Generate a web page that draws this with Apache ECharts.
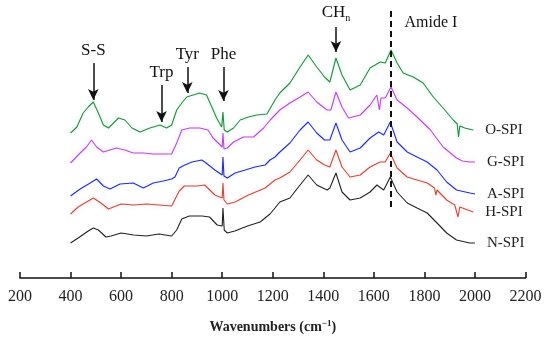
<!DOCTYPE html>
<html><head><meta charset="utf-8">
<script src="https://cdn.jsdelivr.net/npm/echarts@6/dist/echarts.min.js"></script>
<style>html,body{margin:0;padding:0;background:#fff}#c{width:550px;height:342px}</style>
</head><body><div id="c"></div>
<script>
// Wavenumber ticks
const xTicks = [200,400,600,800,1000,1200,1400,1600,1800,2000,2200];
// Series (wavenumber, offset Raman intensity in arbitrary units)
const oX = [400,425,450,470,490,510,530,550,570,590,615,643,675,714,754,780,800,820,840,860,885,911,938,959,978,998,1003,1008,1020,1045,1071,1104,1137,1177,1209,1228,1268,1308,1340,1374,1405,1426,1450,1474,1506,1546,1585,1625,1645,1668,1692,1716,1756,1795,1835,1874,1914,1930,1935,1940,1960,1993];
const oY = [145,151,165,171,176,165,153,150,155,160,158,150,146,150,153,150,153,168,175,181,183,185,183,171,160,151,166,148,146,150,158,161,163,164,178,185,195,211,223,211,201,196,220,203,188,193,210,216,215,228,215,205,201,195,181,170,158,154,141,152,150,148];
const gX = [400,438,463,483,503,530,556,582,615,648,688,727,767,800,820,840,872,911,944,964,984,1000,1003,1007,1020,1045,1084,1124,1164,1190,1228,1268,1308,1340,1374,1415,1430,1450,1474,1500,1546,1585,1612,1622,1628,1645,1668,1692,1732,1771,1824,1874,1927,1950,1980,2000];
const gY = [115,125,131,138,131,126,128,130,128,125,125,124,124,124,135,148,150,150,148,140,135,131,145,129,130,136,141,141,150,158,168,175,181,186,176,168,168,186,171,160,163,173,183,168,180,180,191,178,170,161,148,131,120,117,116,116];
const aX = [400,438,478,503,530,556,596,648,688,727,767,800,813,830,852,880,919,931,971,1000,1003,1007,1020,1051,1091,1130,1170,1189,1209,1228,1268,1308,1340,1374,1405,1426,1450,1474,1506,1546,1585,1619,1639,1665,1692,1732,1771,1811,1850,1888,1927,1980,2000];
const aY = [82,89,95,99,92,89,94,95,90,95,97,99,101,110,113,116,118,116,108,103,121,102,100,105,108,111,113,118,121,126,135,148,156,145,138,138,155,138,126,130,140,146,143,156,136,126,121,116,108,96,88,85,84];
const hX = [400,430,470,490,520,550,600,650,700,750,800,830,850,900,931,971,1000,1003,1007,1020,1051,1104,1170,1209,1228,1268,1308,1340,1374,1405,1426,1450,1474,1506,1546,1585,1625,1645,1665,1692,1732,1771,1811,1840,1845,1850,1888,1920,1933,1940,1946,1993];
const hY = [64,71,77,80,75,69,74,73,74,73,72,87,92,92,93,83,80,95,78,74,76,83,90,98,100,106,118,128,118,113,111,128,111,101,103,111,116,116,125,110,101,98,95,90,83,88,78,73,61,71,70,66];
const nX = [400,430,470,490,510,540,560,600,650,700,750,800,820,840,870,920,950,980,1000,1003,1008,1020,1050,1100,1150,1189,1209,1228,1268,1308,1340,1374,1415,1426,1450,1474,1506,1546,1585,1612,1639,1665,1692,1732,1771,1811,1850,1888,1927,1980,2000];
const nY = [35,40,47,50,48,41,42,45,43,42,44,42,48,59,62,62,61,53,52,70,48,45,47,52,56,64,70,76,80,93,103,93,88,90,105,86,78,80,86,93,88,101,86,75,70,65,55,45,38,35,35];
const seriesNames = ['O-SPI','G-SPI','A-SPI','H-SPI','N-SPI'];
const seriesColors = ['#2f8a35','#b24fd6','#2b2bcf','#c0513a','#222222'];
const haloColors = ['rgba(120,240,230,0.55)','rgba(240,150,240,0.5)','rgba(140,200,255,0.35)','rgba(255,160,190,0.55)','rgba(0,0,0,0)'];
// Band annotations: label, wavenumber, arrow top, arrow bottom (intensity units)
const bands = [
  {name:'S-S', x:490, y1:215, y2:178},
  {name:'Trp', x:760, y1:193, y2:156},
  {name:'Tyr', x:862, y1:211, y2:185},
  {name:'Phe', x:1005, y1:211, y2:177},
  {name:'CH', x:1450, y1:251, y2:226}
];
const amideX = 1665, amideTop = 267, amideBottom = 70;

const pairs = (xs, ys) => xs.map((x,i)=>[x, ys[i]]);
const allData = [pairs(oX,oY), pairs(gX,gY), pairs(aX,aY), pairs(hX,hY), pairs(nX,nY)];
const serif = 'Liberation Serif';

const markLineData = bands.map(b => [
  {name:b.name, coord:[b.x,b.y1]},
  {coord:[b.x,b.y2]}
]);
markLineData.push([
  {name:'', coord:[amideX, amideTop], symbol:'none', lineStyle:{type:[6,4], width:2}, label:{show:false}},
  {coord:[amideX, amideBottom], symbol:'none'}
]);

const series = seriesNames.map((n,i)=>({
  name:n, type:'line', data:allData[i], showSymbol:false, symbol:'none',
  lineStyle:{color:seriesColors[i], width:1.1, shadowColor:haloColors[i], shadowBlur:4},
  itemStyle:{color:seriesColors[i]},
  silent:true, animation:false, z: 2,
  endLabel:{show:true, formatter:n, distance:12, color:'#222', fontFamily:serif, fontSize:15}
}));
series[4].markLine = {
  silent:true, animation:false, precision:0,
  symbol:['none','arrow'], symbolSize:[8,11],
  lineStyle:{color:'#111', width:1.5, type:'solid'},
  label:{show:true, position:'start', distance:4, formatter:p=> p.name==='CH' ? '{a|CH}{s|n}' : p.name,
    color:'#111', fontFamily:serif, fontSize:17,
    rich:{a:{fontFamily:serif, fontSize:17, color:'#111'}, s:{fontFamily:serif, fontSize:10, color:'#111', padding:[10,0,0,0]}}},
  data: markLineData
};
series[4].markPoint = {
  silent:true, animation:false, symbol:'circle', symbolSize:0,
  label:{show:true, position:'inside', formatter:'{b}', color:'#111', fontFamily:serif, fontSize:16},
  data:[{name:'Amide I', coord:[1826, 255]}]
};

const chart = echarts.init(document.getElementById('c'), null, {renderer:'canvas'});
chart.setOption({
  animation:false,
  backgroundColor:'#fff',
  grid:{left:20, right:24.5, top:0, bottom:64, containLabel:false},
  xAxis:{type:'value', min:xTicks[0], max:xTicks[xTicks.length-1], interval:200,
    axisLine:{show:true, onZero:false, lineStyle:{color:'#111', width:1.5}},
    axisTick:{show:true, inside:true, length:6, lineStyle:{color:'#111', width:1.5}},
    axisLabel:{color:'#222', fontFamily:serif, fontSize:16, margin:11, formatter:v=>String(v)},
    splitLine:{show:false},
    name:'Wavenumbers (cm{sup|−1})', nameLocation:'middle', nameGap:41,
    nameTextStyle:{color:'#222', fontFamily:serif, fontSize:14, fontWeight:'bold',
      rich:{sup:{fontFamily:serif, fontSize:9, fontWeight:'bold', color:'#222', padding:[0,0,8,0]}}}
  },
  yAxis:{type:'value', min:0, max:278, show:false},
  series: series
});
</script></body></html>
